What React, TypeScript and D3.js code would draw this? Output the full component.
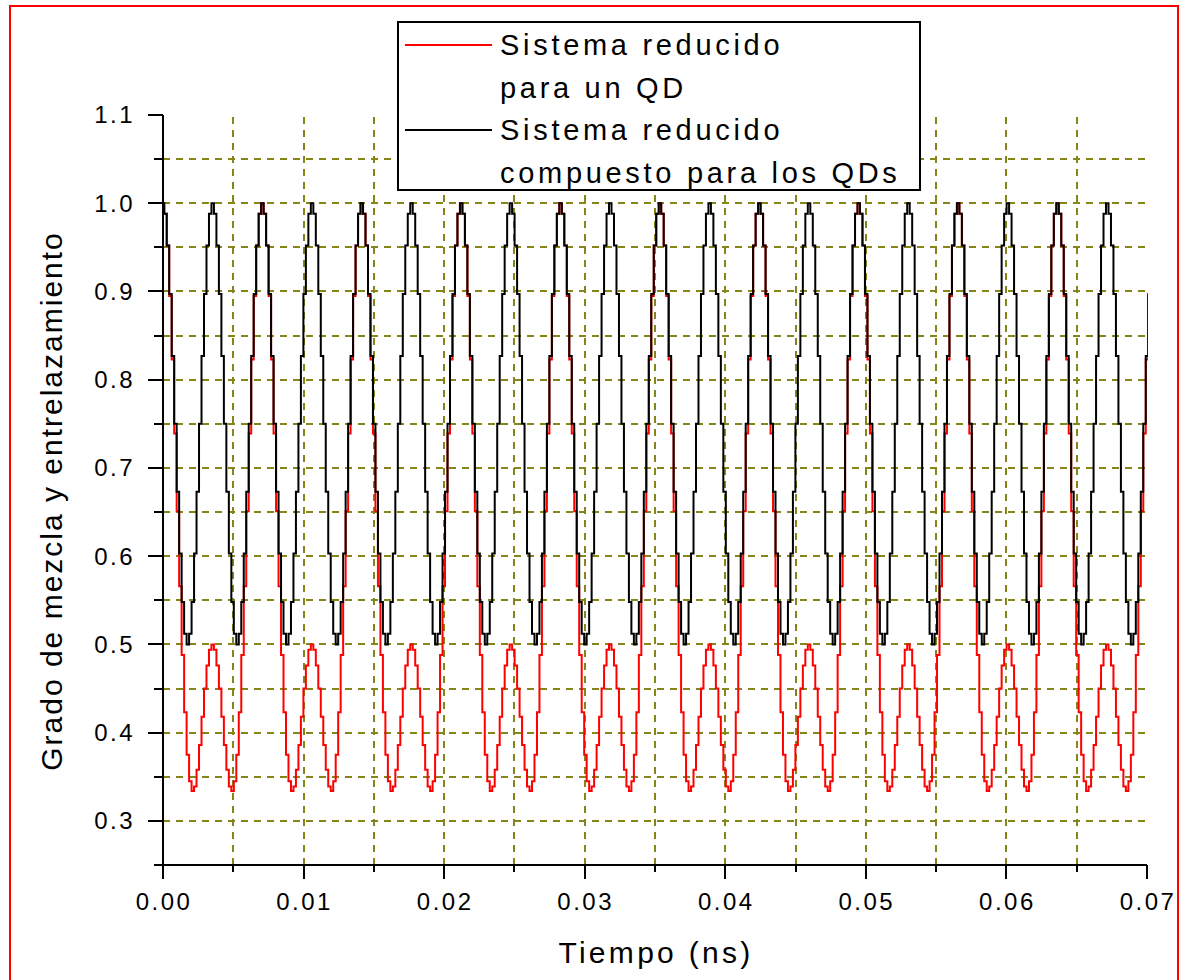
import React from "react";
import * as d3 from "d3";

// ---- data ----
const timeDomain = [0, 0.07]; // ns
const valueDomain = [0.25, 1.1];

// Sistema reducido compuesto para los QDs (black)
const blackValues = [
1.000,0.988,0.952,0.897,0.827,0.750,0.673,0.603,0.548,0.512,0.500,0.512,0.548,0.603,0.673,0.750,0.827,0.897,0.952,0.988,
1.000,0.988,0.952,0.897,0.827,0.750,0.673,0.603,0.548,0.512,0.500,0.512,0.548,0.603,0.673,0.750,0.827,0.897,0.952,0.988,
1.000,0.988,0.952,0.897,0.827,0.750,0.673,0.603,0.548,0.512,0.500,0.512,0.548,0.603,0.673,0.750,0.827,0.897,0.952,0.988,
1.000,0.988,0.952,0.897,0.827,0.750,0.673,0.603,0.548,0.512,0.500,0.512,0.548,0.603,0.673,0.750,0.827,0.897,0.952,0.988,
1.000,0.988,0.952,0.897,0.827,0.750,0.673,0.603,0.548,0.512,0.500,0.512,0.548,0.603,0.673,0.750,0.827,0.897,0.952,0.988,
1.000,0.988,0.952,0.897,0.827,0.750,0.673,0.603,0.548,0.512,0.500,0.512,0.548,0.603,0.673,0.750,0.827,0.897,0.952,0.988,
1.000,0.988,0.952,0.897,0.827,0.750,0.673,0.603,0.548,0.512,0.500,0.512,0.548,0.603,0.673,0.750,0.827,0.897,0.952,0.988,
1.000,0.988,0.952,0.897,0.827,0.750,0.673,0.603,0.548,0.512,0.500,0.512,0.548,0.603,0.673,0.750,0.827,0.897,0.952,0.988,
1.000,0.988,0.952,0.897,0.827,0.750,0.673,0.603,0.548,0.512,0.500,0.512,0.548,0.603,0.673,0.750,0.827,0.897,0.952,0.988,
1.000,0.988,0.952,0.897,0.827,0.750,0.673,0.603,0.548,0.512,0.500,0.512,0.548,0.603,0.673,0.750,0.827,0.897,0.952,0.988,
1.000,0.988,0.952,0.897,0.827,0.750,0.673,0.603,0.548,0.512,0.500,0.512,0.548,0.603,0.673,0.750,0.827,0.897,0.952,0.988,
1.000,0.988,0.952,0.897,0.827,0.750,0.673,0.603,0.548,0.512,0.500,0.512,0.548,0.603,0.673,0.750,0.827,0.897,0.952,0.988,
1.000,0.988,0.952,0.897,0.827,0.750,0.673,0.603,0.548,0.512,0.500,0.512,0.548,0.603,0.673,0.750,0.827,0.897,0.952,0.988,
1.000,0.988,0.952,0.897,0.827,0.750,0.673,0.603,0.548,0.512,0.500,0.512,0.548,0.603,0.673,0.750,0.827,0.897,0.952,0.988,
1.000,0.988,0.952,0.897,0.827,0.750,0.673,0.603,0.548,0.512,0.500,0.512,0.548,0.603,0.673,0.750,0.827,0.897,0.952,0.988,
1.000,0.988,0.952,0.897,0.827,0.750,0.673,0.603,0.548,0.512,0.500,0.512,0.548,0.603,0.673,0.750,0.827,0.897,0.952,0.988,
1.000,0.988,0.952,0.897,0.827,0.750,0.673,0.603,0.548,0.512,0.500,0.512,0.548,0.603,0.673,0.750,0.827,0.897,0.952,0.988,
1.000,0.988,0.952,0.897,0.827,0.750,0.673,0.603,0.548,0.512,0.500,0.512,0.548,0.603,0.673,0.750,0.827,0.897,0.952,0.988,
1.000,0.988,0.952,0.897,0.827,0.750,0.673,0.603,0.548,0.512,0.500,0.512,0.548,0.603,0.673,0.750,0.827,0.897,0.952,0.988,
1.000,0.988,0.952,0.897,0.827,0.750,0.673,0.603,0.548,0.512,0.500,0.512,0.548,0.603,0.673,0.750,0.827,0.897
];

// Sistema reducido para un QD (red)
const redValues = [
1.000,0.988,0.952,0.895,0.823,0.739,0.651,0.566,0.488,0.423,0.375,0.345,0.334,0.339,0.358,0.386,0.418,0.450,0.476,0.494,
0.500,0.494,0.476,0.450,0.418,0.386,0.358,0.339,0.334,0.345,0.375,0.423,0.488,0.566,0.651,0.739,0.823,0.895,0.952,0.988,
1.000,0.988,0.952,0.895,0.823,0.739,0.651,0.566,0.488,0.423,0.375,0.345,0.334,0.339,0.358,0.386,0.418,0.450,0.476,0.494,
0.500,0.494,0.476,0.450,0.418,0.386,0.358,0.339,0.334,0.345,0.375,0.423,0.488,0.566,0.651,0.739,0.823,0.895,0.952,0.988,
1.000,0.988,0.952,0.895,0.823,0.739,0.651,0.566,0.488,0.423,0.375,0.345,0.334,0.339,0.358,0.386,0.418,0.450,0.476,0.494,
0.500,0.494,0.476,0.450,0.418,0.386,0.358,0.339,0.334,0.345,0.375,0.423,0.488,0.566,0.651,0.739,0.823,0.895,0.952,0.988,
1.000,0.988,0.952,0.895,0.823,0.739,0.651,0.566,0.488,0.423,0.375,0.345,0.334,0.339,0.358,0.386,0.418,0.450,0.476,0.494,
0.500,0.494,0.476,0.450,0.418,0.386,0.358,0.339,0.334,0.345,0.375,0.423,0.488,0.566,0.651,0.739,0.823,0.895,0.952,0.988,
1.000,0.988,0.952,0.895,0.823,0.739,0.651,0.566,0.488,0.423,0.375,0.345,0.334,0.339,0.358,0.386,0.418,0.450,0.476,0.494,
0.500,0.494,0.476,0.450,0.418,0.386,0.358,0.339,0.334,0.345,0.375,0.423,0.488,0.566,0.651,0.739,0.823,0.895,0.952,0.988,
1.000,0.988,0.952,0.895,0.823,0.739,0.651,0.566,0.488,0.423,0.375,0.345,0.334,0.339,0.358,0.386,0.418,0.450,0.476,0.494,
0.500,0.494,0.476,0.450,0.418,0.386,0.358,0.339,0.334,0.345,0.375,0.423,0.488,0.566,0.651,0.739,0.823,0.895,0.952,0.988,
1.000,0.988,0.952,0.895,0.823,0.739,0.651,0.566,0.488,0.423,0.375,0.345,0.334,0.339,0.358,0.386,0.418,0.450,0.476,0.494,
0.500,0.494,0.476,0.450,0.418,0.386,0.358,0.339,0.334,0.345,0.375,0.423,0.488,0.566,0.651,0.739,0.823,0.895,0.952,0.988,
1.000,0.988,0.952,0.895,0.823,0.739,0.651,0.566,0.488,0.423,0.375,0.345,0.334,0.339,0.358,0.386,0.418,0.450,0.476,0.494,
0.500,0.494,0.476,0.450,0.418,0.386,0.358,0.339,0.334,0.345,0.375,0.423,0.488,0.566,0.651,0.739,0.823,0.895,0.952,0.988,
1.000,0.988,0.952,0.895,0.823,0.739,0.651,0.566,0.488,0.423,0.375,0.345,0.334,0.339,0.358,0.386,0.418,0.450,0.476,0.494,
0.500,0.494,0.476,0.450,0.418,0.386,0.358,0.339,0.334,0.345,0.375,0.423,0.488,0.566,0.651,0.739,0.823,0.895,0.952,0.988,
1.000,0.988,0.952,0.895,0.823,0.739,0.651,0.566,0.488,0.423,0.375,0.345,0.334,0.339,0.358,0.386,0.418,0.450,0.476,0.494,
0.500,0.494,0.476,0.450,0.418,0.386,0.358,0.339,0.334,0.345,0.375,0.423,0.488,0.566,0.651,0.739,0.823,0.895
];

const xMajorTicks = [0, 0.01, 0.02, 0.03, 0.04, 0.05, 0.06, 0.07];
const xTickLabels = ["0.00", "0.01", "0.02", "0.03", "0.04", "0.05", "0.06", "0.07"];
const xMinorTicks = [0.005, 0.015, 0.025, 0.035, 0.045, 0.055, 0.065];
const xGrid = [0.005, 0.01, 0.015, 0.02, 0.025, 0.03, 0.035, 0.04, 0.045, 0.05, 0.055, 0.06, 0.065];

const yMajorTicks = [0.3, 0.4, 0.5, 0.6, 0.7, 0.8, 0.9, 1.0, 1.1];
const yTickLabels = ["0.3", "0.4", "0.5", "0.6", "0.7", "0.8", "0.9", "1.0", "1.1"];
const yMinorTicks = [0.25, 0.35, 0.45, 0.55, 0.65, 0.75, 0.85, 0.95, 1.05];
const yGrid = [0.3, 0.35, 0.4, 0.45, 0.5, 0.55, 0.6, 0.65, 0.7, 0.75, 0.8, 0.85, 0.9, 0.95, 1.0, 1.05];

const legendLabels = [
  ["Sistema reducido", "para un QD"],
  ["Sistema reducido", "compuesto para los QDs"],
];
const seriesColors = ["#ff0000", "#000000"];

const xTitle = "Tiempo (ns)";
const yTitle = "Grado de mezcla y entrelazamiento";

export default function App() {
  const W = 1184, H = 980;
  const x = d3.scaleLinear().domain(timeDomain).range([163, 1147]);
  const y = d3.scaleLinear().domain(valueDomain).range([865, 115]);
  const rx = (v: number) => Math.round(x(v));
  const ry = (v: number) => Math.round(y(v));

  // samples are evenly spaced; the last sample sits just before the axis end
  const dt = 0.07 / 396;
  const toPoints = (vals: number[]) =>
    vals.map((v, i) => [timeDomain[0] + i * dt, v] as [number, number]);

  const line = d3
    .line<[number, number]>()
    .x((d) => x(d[0]))
    .y((d) => y(d[1]))
    .curve(d3.curveStep);

  const redPath = line(toPoints(redValues)) || "";
  const blackPath = line(toPoints(blackValues)) || "";

  const font = "'Liberation Sans', Arial, sans-serif";
  const gridColor = "#85851a";
  const x0 = rx(timeDomain[0]);
  const x1 = rx(timeDomain[1]);
  const yBot = ry(valueDomain[0]);
  const yTop = ry(valueDomain[1]);

  return (
    <svg
      width={W}
      height={H}
      style={{ position: "absolute", left: 0, top: 0, background: "#fff" }}
    >
      <rect x={0} y={0} width={W} height={H} fill="#fff" />
      {/* outer red frame */}
      <rect x={10} y={6} width={1168} height={990} fill="none" stroke="#ff0000" strokeWidth={2} />

      {/* grid */}
      <g stroke={gridColor} strokeWidth={2} strokeDasharray="7,6" shapeRendering="crispEdges">
        {yGrid.map((v) => (
          <line key={"gy" + v} x1={x0} x2={x1} y1={ry(v)} y2={ry(v)} />
        ))}
        {xGrid.map((v) => (
          <line key={"gx" + v} x1={rx(v)} x2={rx(v)} y1={yBot} y2={yTop} />
        ))}
      </g>

      {/* curves */}
      <defs>
        <clipPath id="plotClip">
          <rect x={x0 - 2} y={yTop - 2} width={x1 - x0 + 3} height={yBot - yTop + 4} />
        </clipPath>
      </defs>
      <g clipPath="url(#plotClip)">
        <path d={redPath} fill="none" stroke={seriesColors[0]} strokeWidth={2} />
        <path d={blackPath} fill="none" stroke={seriesColors[1]} strokeWidth={2} />
      </g>

      {/* axes */}
      <g stroke="#000" strokeWidth={2} shapeRendering="crispEdges">
        <line x1={x0} x2={x0} y1={yTop} y2={yBot} />
        <line x1={x0} x2={x1} y1={yBot} y2={yBot} />
        {yMajorTicks.map((v) => (
          <line key={"ymj" + v} x1={x0 - 15} x2={x0} y1={ry(v)} y2={ry(v)} />
        ))}
        {yMinorTicks.map((v) => (
          <line key={"ymn" + v} x1={x0 - 9} x2={x0} y1={ry(v)} y2={ry(v)} />
        ))}
        {xMajorTicks.map((v) => (
          <line key={"xmj" + v} x1={rx(v)} x2={rx(v)} y1={yBot} y2={yBot + 14} />
        ))}
        {xMinorTicks.map((v) => (
          <line key={"xmn" + v} x1={rx(v)} x2={rx(v)} y1={yBot} y2={yBot + 7} />
        ))}
      </g>

      {/* tick labels */}
      <g fontFamily={font} fontSize={24} fill="#000" letterSpacing={2.5}>
        {yMajorTicks.map((v, i) => (
          <text key={"yl" + v} x={135} y={y(v)} dy="0.35em" textAnchor="end">
            {yTickLabels[i]}
          </text>
        ))}
        {xMajorTicks.map((v, i) => (
          <text key={"xl" + v} x={x(v) + 1} y={910} textAnchor="middle">
            {xTickLabels[i]}
          </text>
        ))}
      </g>

      {/* axis titles */}
      <text x={656} y={963} textAnchor="middle" fontFamily={font} fontSize={30} letterSpacing={3.3} fill="#000">
        {xTitle}
      </text>
      <text
        transform="translate(62,501) rotate(-90)"
        textAnchor="middle"
        fontFamily={font}
        fontSize={30}
        letterSpacing={2}
        fill="#000"
      >
        {yTitle}
      </text>

      {/* legend */}
      <g>
        <rect x={398} y={22} width={522} height={168} fill="#fff" stroke="#000" strokeWidth={2} />
        {legendLabels.map((lines, i) => {
          const cy = 45 + i * 85;
          return (
            <g key={"lg" + i}>
              <line x1={405} x2={492} y1={cy} y2={cy} stroke={seriesColors[i]} strokeWidth={2} />
              {lines.map((t, j) => (
                <text
                  key={j}
                  x={500}
                  y={cy + j * 42.5}
                  dy="0.36em"
                  fontFamily={font}
                  fontSize={29}
                  letterSpacing={3.7}
                  fill="#000"
                >
                  {t}
                </text>
              ))}
            </g>
          );
        })}
      </g>
    </svg>
  );
}
